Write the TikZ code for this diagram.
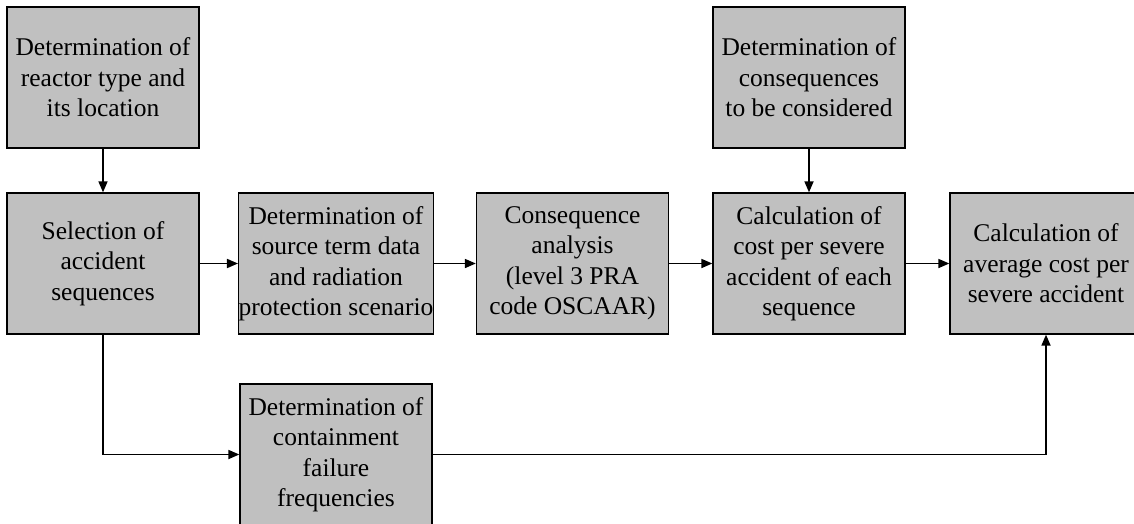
\documentclass[tikz,border=0pt]{standalone}
\usepackage{fontspec}
\setmainfont{Liberation Serif}
\definecolor{boxgray}{RGB}{192,192,192}
\usetikzlibrary{arrows.meta,positioning}
\tikzset{
  stepbox/.style={draw, fill=boxgray, line width=1.3pt, minimum width=192pt, minimum height=141pt,
    inner sep=0pt, align=center, font=\fontsize{25.5}{30.5}\selectfont},
  flow/.style={line width=1.7pt, -{Triangle[length=11pt,width=9pt]}}
}
\begin{document}
\begin{tikzpicture}[x=1pt, y=-1pt]
  \useasboundingbox (0,0) rectangle (1134,524);

  % Top inputs
  \node[stepbox] (reactor) at (103,77.5) {Determination of\\reactor type and\\its location};
  \node[stepbox] (conseq) at (809,77.5) {Determination of\\consequences\\to be considered};

  % Main chain
  \node[stepbox] (select) at (103,263.5) {Selection of\\accident\\sequences};
  \node[stepbox] (source) at (336,263.5) {Determination of\\source term data\\and radiation\\protection scenario};
  \node[stepbox] (oscaar) at (572.5,263.5) {Consequence\\analysis\\(level 3 PRA\\code OSCAAR)};
  \node[stepbox] (costseq) at (809,263.5) {Calculation of\\cost per severe\\accident of each\\sequence};
  \node[stepbox] (costavg) at (1046,263.5) {Calculation of\\average cost per\\severe accident};

  % Frequencies
  \node[stepbox] (freq) at (336,454.5) {Determination of\\containment\\failure\\frequencies};

  % Arrows
  \draw[flow] (reactor) -- (select);
  \draw[flow] (conseq) -- (costseq);
  \draw[flow] (select) -- (source);
  \draw[flow] (source) -- (oscaar);
  \draw[flow] (oscaar) -- (costseq);
  \draw[flow] (costseq) -- (costavg);
  \draw[flow] (select.south) |- (freq.west);
  \draw[flow] (freq.east) -| (costavg.south);
\end{tikzpicture}
\end{document}
